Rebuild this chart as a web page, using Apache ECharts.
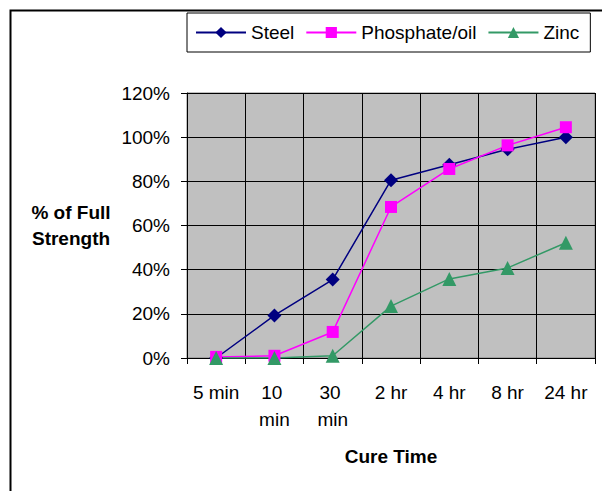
<!DOCTYPE html>
<html>
<head>
<meta charset="utf-8">
<script src="https://cdn.jsdelivr.net/npm/echarts@6/dist/echarts.min.js"></script>
<style>html,body{margin:0;padding:0;background:#fff;}#c{width:602px;height:491px;}</style>
</head>
<body>
<div id="c"></div>
<script>
var categories = ['5 min', '10 min', '30 min', '2 hr', '4 hr', '8 hr', '24 hr'];
var steel = [0, 19.3, 35.5, 80.5, 87.5, 94.5, 100];
var phosphate = [0.5, 1, 11.8, 68.4, 85.6, 96.3, 104.5];
var zinc = [0, 0, 1, 23.5, 35.8, 40.8, 52.2];
var yTicks = [0, 20, 40, 60, 80, 100, 120];

var chart = echarts.init(document.getElementById('c'), null, {renderer: 'svg'});
var font = 'Arial, "Liberation Sans", sans-serif';
chart.setOption({
  animation: false,
  backgroundColor: '#fff',
  textStyle: {fontFamily: font, color: '#000'},
  graphic: [
    {type: 'rect', left: 8, top: 8, shape: {width: 620, height: 520}, style: {fill: 'none', stroke: '#000', lineWidth: 2}, silent: true, z: 100},
    {type: 'text', x: 71, y: 225, style: {text: '% of Full\nStrength', font: 'bold 19px ' + font, fill: '#000', align: 'center', verticalAlign: 'middle', lineHeight: 26}}
  ],
  legend: {
    left: 187, top: 13,
    padding: [10, 11, 10, 8],
    itemWidth: 50, itemHeight: 14, itemGap: 11,
    borderColor: '#000', borderWidth: 1,
    textStyle: {fontSize: 19, fontFamily: font, color: '#000'},
    data: ['Steel', 'Phosphate/oil', 'Zinc']
  },
  grid: {left: 187, right: 7, top: 93, bottom: 133, show: true, backgroundColor: '#C0C0C0', borderColor: '#808080', borderWidth: 1},
  xAxis: {
    type: 'category', data: categories, boundaryGap: true,
    name: 'Cure Time', nameLocation: 'middle', nameGap: 89,
    nameTextStyle: {fontSize: 19, fontWeight: 'bold', color: '#000', fontFamily: font},
    axisLine: {lineStyle: {color: '#000', width: 1}},
    axisTick: {show: true, length: 6, lineStyle: {color: '#000'}, alignWithLabel: false},
    axisLabel: {fontSize: 19, color: '#000', margin: 21, lineHeight: 27, width: 55, overflow: 'break', interval: 0, fontFamily: font},
    splitLine: {show: true, lineStyle: {color: '#000', width: 1}}
  },
  yAxis: {
    type: 'value', min: 0, max: 120, interval: 20,
    axisLine: {show: true, lineStyle: {color: '#000', width: 1}},
    axisTick: {show: true, length: 6, lineStyle: {color: '#000'}},
    axisLabel: {fontSize: 19, color: '#000', margin: 17, fontFamily: font, formatter: function (v) { return yTicks.indexOf(v) >= 0 ? v + '%' : ''; }},
    splitLine: {show: true, lineStyle: {color: '#000', width: 1}}
  },
  series: [
    {name: 'Steel', type: 'line', data: steel, color: '#000080', symbol: 'diamond', symbolSize: 14, showAllSymbol: true,
     lineStyle: {width: 1.5, color: '#000080'}, itemStyle: {color: '#000080'}},
    {name: 'Phosphate/oil', type: 'line', data: phosphate, color: '#FF00FF', symbol: 'rect', symbolSize: 12, showAllSymbol: true,
     lineStyle: {width: 1.5, color: '#FF00FF'}, itemStyle: {color: '#FF00FF'}},
    {name: 'Zinc', type: 'line', data: zinc, color: '#339966', symbol: 'triangle', symbolSize: 14, showAllSymbol: true,
     lineStyle: {width: 1.5, color: '#339966'}, itemStyle: {color: '#339966'}}
  ]
});
</script>
</body>
</html>
